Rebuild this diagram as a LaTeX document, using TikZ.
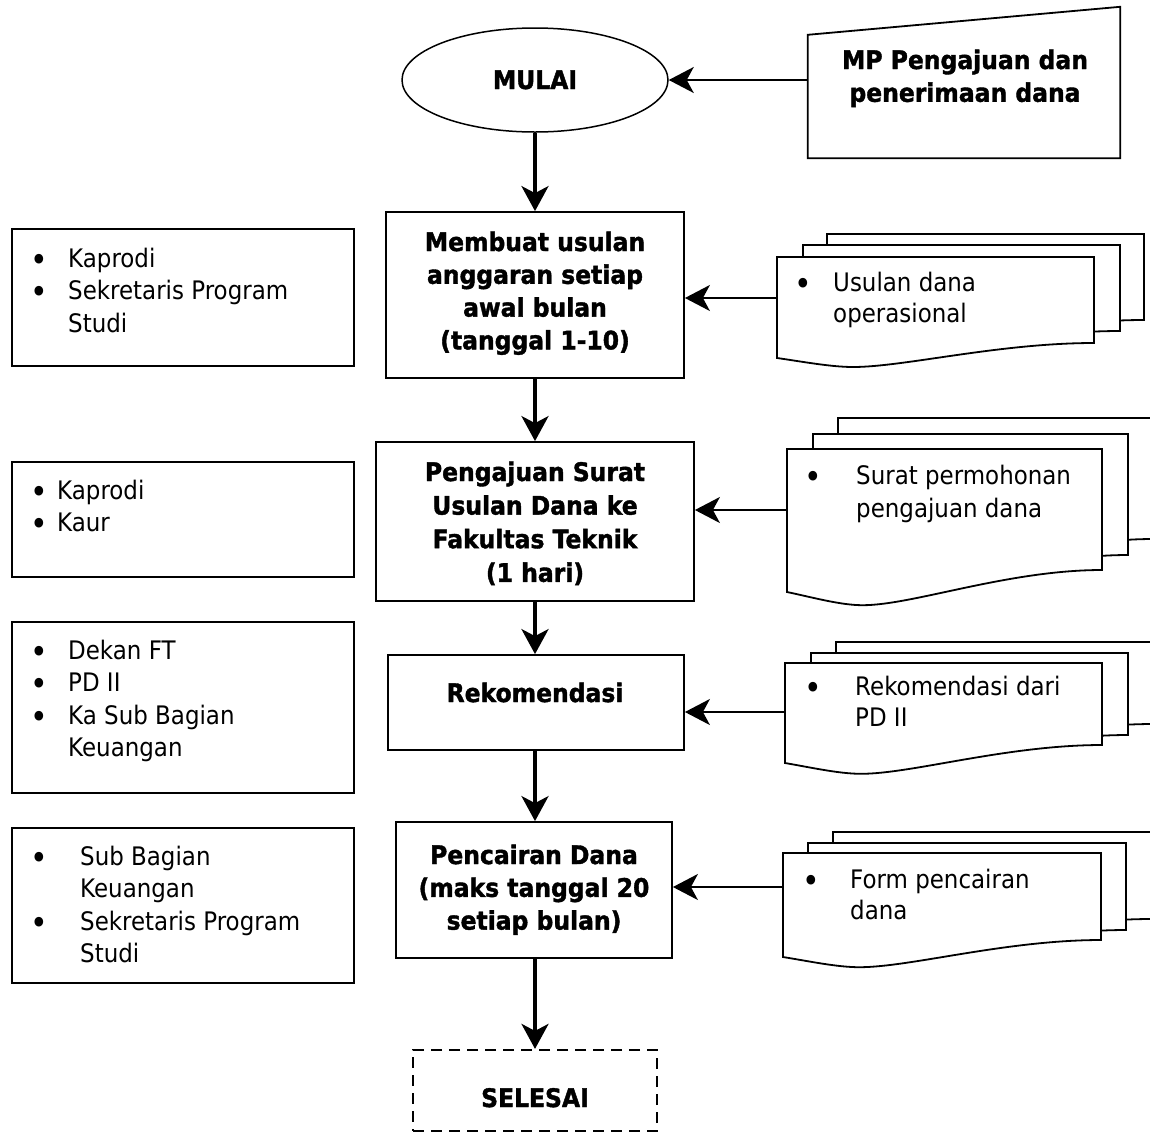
\documentclass[tikz,border=0pt]{standalone}
\usepackage{fontspec}
\setmainfont{DejaVu Sans}[FakeStretch=0.9, BoldFeatures={FakeStretch=0.92, FakeBold=1.5}]
\usetikzlibrary{arrows.meta,calc,shapes.geometric}

\newcommand\mybul[1]{\makebox[0pt][c]{\raisebox{-4pt}{\scalebox{1.3}{\textbullet}}}\hspace{#1}}
\newcommand\mydocpage[5]{%
  \pgfmathsetmacro\mdR{#1+#3}%
  \pgfmathsetmacro\mdBl{#2+#4}%
  \pgfmathsetmacro\mdBr{#2+#5}%
  \pgfmathsetmacro\mdD{0.6*(#4-#5)}%
  \pgfmathsetmacro\mdMx{#1+0.24*#3}%
  \pgfmathsetmacro\mdMy{\mdBl+\mdD}%
  \pgfmathsetmacro\mdCa{#1+0.08*#3}%
  \pgfmathsetmacro\mdCay{\mdBl+0.4*\mdD}%
  \pgfmathsetmacro\mdCb{#1+0.17*#3}%
  \pgfmathsetmacro\mdCc{#1+0.40*#3}%
  \pgfmathsetmacro\mdCd{#1+0.70*#3}%
  \draw[docline] (#1,#2) -- (\mdR,#2) -- (\mdR,\mdBr)
    .. controls (\mdCd,\mdBr) and (\mdCc,\mdMy) .. (\mdMx,\mdMy)
    .. controls (\mdCb,\mdMy) and (\mdCa,\mdCay) .. (#1,\mdBl) -- cycle;
}

\tikzset{
  box/.style={draw, line width=1.8pt, inner sep=0pt},
  docline/.style={draw, fill=white, line width=1.8pt, line join=miter},
  txt/.style={inner sep=0pt, font=\fontsize{25.5}{32.5}\selectfont},
  doctxt/.style={inner sep=0pt, font=\fontsize{25.5}{31.5}\selectfont},
  btxt/.style={inner sep=0pt, font=\fontsize{25.5}{32.8}\selectfont\bfseries},
  varrow/.style={line width=3.5pt, -{Stealth[length=25pt,width=27pt,inset=7pt]}},
  harrow/.style={line width=2pt, -{Stealth[length=25pt,width=26pt,inset=7pt]}},
}

\begin{document}
\begin{tikzpicture}[x=1pt,y=-1pt]
\useasboundingbox (0,0) rectangle (1150,1133);
\clip (0,0) rectangle (1150,1133);

% ---- start / manual input ----
\node[draw, ellipse, line width=1.5pt, inner sep=0pt, minimum width=266pt, minimum height=104pt] (mulai) at (535,80) {};
\node[btxt, anchor=base] (mulaitxt) at (535,89) {MULAI};

\node[inner sep=0pt, minimum width=312pt, minimum height=151pt] (mp) at (964,82.5) {};
\draw[line width=1.8pt, line join=miter] (mp.south west) -- (mp.south east) -- (mp.north east) -- ($(mp.north west)+(0,28)$) -- cycle;
\node[btxt, anchor=base] (mptxt) at (965,69) {\begin{tabular}[t]{@{}c@{}}MP Pengajuan dan\\ penerimaan dana\end{tabular}};

% ---- main process boxes ----
\node[box, minimum width=298pt, minimum height=166pt] (b1) at (535,295) {};
\node[btxt, anchor=base] (b1t) at (535,251) {\begin{tabular}[t]{@{}c@{}}Membuat usulan\\ anggaran setiap\\ awal bulan\\ (tanggal 1-10)\end{tabular}};

\node[box, minimum width=318pt, minimum height=159pt] (b2) at (535,521.5) {};
\node[btxt, anchor=base, font=\fontsize{25.5}{33.6}\selectfont\bfseries] (b2t) at (535,481) {\begin{tabular}[t]{@{}c@{}}Pengajuan Surat\\ Usulan Dana ke\\ Fakultas Teknik\\ (1 hari)\end{tabular}};

\node[box, minimum width=296pt, minimum height=95pt] (b3) at (536,702.5) {};
\node[btxt, anchor=base] (b3t) at (535,702) {Rekomendasi};

\node[box, minimum width=276pt, minimum height=136pt] (b4) at (534,890) {};
\node[btxt, anchor=base] (b4t) at (534,864) {\begin{tabular}[t]{@{}c@{}}Pencairan Dana\\ (maks tanggal 20\\ setiap bulan)\end{tabular}};

\node[draw, line width=2.2pt, dash pattern=on 11pt off 7pt, inner sep=0pt, minimum width=244pt, minimum height=81pt] (selesai) at (535,1090.5) {};
\node[btxt, anchor=base] (selt) at (535,1107) {SELESAI};

% ---- left boxes ----
\node[box, minimum width=342pt, minimum height=137pt] (l1) at (183,297.5) {};
\node[txt, anchor=base west] (l1t) at (39,267) {\begin{tabular}[t]{@{}l@{}}\mybul{29pt}Kaprodi\\ \mybul{29pt}Sekretaris Program\\ \hspace{29pt}Studi\end{tabular}};

\node[box, minimum width=342pt, minimum height=115pt] (l2) at (183,519.5) {};
\node[txt, anchor=base west] (l2t) at (39,499) {\begin{tabular}[t]{@{}l@{}}\mybul{18pt}Kaprodi\\ \mybul{18pt}Kaur\end{tabular}};

\node[box, minimum width=342pt, minimum height=171pt] (l3) at (183,707.5) {};
\node[txt, anchor=base west] (l3t) at (39,659) {\begin{tabular}[t]{@{}l@{}}\mybul{29pt}Dekan FT\\ \mybul{29pt}PD II\\ \mybul{29pt}Ka Sub Bagian\\ \hspace{29pt}Keuangan\end{tabular}};

\node[box, minimum width=342pt, minimum height=155pt] (l4) at (183,905.5) {};
\node[txt, anchor=base west] (l4t) at (39,865) {\begin{tabular}[t]{@{}l@{}}\mybul{41pt}Sub Bagian\\ \hspace{41pt}Keuangan\\ \mybul{41pt}Sekretaris Program\\ \hspace{41pt}Studi\end{tabular}};

% ---- documents ----
\mydocpage{827}{234}{317}{101}{86}
\mydocpage{803}{245}{317}{101}{86}
\mydocpage{777}{257}{317}{101}{86}
\node[doctxt, anchor=base west] (d1t) at (803,291) {\begin{tabular}[t]{@{}l@{}}\mybul{30pt}Usulan dana\\ \hspace{30pt}operasional\end{tabular}};
\coordinate (d1) at (777,298);

\mydocpage{838}{418}{315}{143}{121}
\mydocpage{813}{434}{315}{143}{121}
\mydocpage{787}{449}{315}{143}{121}
\node[doctxt, anchor=base west, font=\fontsize{25.5}{33}\selectfont] (d2t) at (813,484) {\begin{tabular}[t]{@{}l@{}}\mybul{43pt}Surat permohonan\\ \hspace{43pt}pengajuan dana\end{tabular}};
\coordinate (d2) at (787,510);

\mydocpage{836}{642}{317}{100}{82}
\mydocpage{811}{653}{317}{100}{82}
\mydocpage{785}{663}{317}{100}{82}
\node[doctxt, anchor=base west] (d3t) at (813,695) {\begin{tabular}[t]{@{}l@{}}\mybul{42pt}Rekomendasi dari\\ \hspace{42pt}PD II\end{tabular}};
\coordinate (d3) at (785,712);

\mydocpage{833}{832}{318}{104}{87}
\mydocpage{808}{843}{318}{104}{87}
\mydocpage{783}{853}{318}{104}{87}
\node[doctxt, anchor=base west] (d4t) at (811,888) {\begin{tabular}[t]{@{}l@{}}\mybul{39pt}Form pencairan\\ \hspace{39pt}dana\end{tabular}};
\coordinate (d4) at (783,887);

% ---- connectors ----
\draw[harrow] (mulai.east -| mp.west) -- (mulai.east);
\draw[varrow] (mulai.south) -- (mulai.south |- b1.north);
\draw[varrow] (b1.south -| mulai.south) -- (mulai.south |- b2.north);
\draw[varrow] (b2.south -| mulai.south) -- (mulai.south |- b3.north);
\draw[varrow] (b3.south -| mulai.south) -- (mulai.south |- b4.north);
\draw[varrow] (b4.south -| mulai.south) -- (mulai.south |- selesai.north);

\draw[harrow] (d1) -- (d1 -| b1.east);
\draw[harrow] (d2) -- (d2 -| b2.east);
\draw[harrow] (d3) -- (d3 -| b3.east);
\draw[harrow] (d4) -- (d4 -| b4.east);
\end{tikzpicture}
\end{document}
